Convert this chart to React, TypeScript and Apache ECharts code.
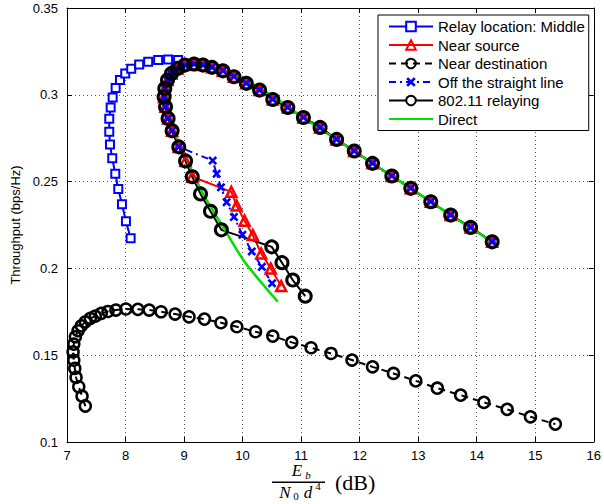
import React, { useEffect, useRef } from "react";
import * as echarts from "echarts";

// Relay location: Middle (blue squares)
const relayMiddle: number[][] = [
  [8.087, 0.2173], [8.007, 0.2272], [7.939, 0.237], [7.876, 0.2457], [7.825, 0.2545],
  [7.773, 0.2634], [7.734, 0.2714], [7.722, 0.2787], [7.722, 0.2862], [7.746, 0.2927],
  [7.78, 0.2985], [7.831, 0.3039], [7.905, 0.3085], [7.995, 0.3123], [8.097, 0.315],
  [8.233, 0.3175], [8.387, 0.319], [8.557, 0.32], [8.727, 0.3204], [8.898, 0.32],
];

// Upper curve shared by near source, off the straight line and 802.11 relaying
const upperShared: number[][] = [
  [14.264, 0.2153], [13.896, 0.2236], [13.555, 0.2307], [13.215, 0.2384], [12.874, 0.2461],
  [12.55, 0.2532], [12.22, 0.2605], [11.908, 0.2676], [11.606, 0.2743], [11.324, 0.2812],
  [11.039, 0.2869], [10.772, 0.2927], [10.516, 0.2973], [10.29, 0.3027], [10.063, 0.3066],
  [9.852, 0.3104], [9.664, 0.3138], [9.477, 0.3158], [9.324, 0.3171], [9.17, 0.3177],
  [9.012, 0.3171], [8.888, 0.3152], [8.785, 0.3123], [8.717, 0.3085], [8.671, 0.3037],
  [8.659, 0.2988], [8.683, 0.2931], [8.727, 0.2864], [8.796, 0.2793], [8.91, 0.27],
];

const nearSourceBranch: number[][] = [
  [9.026, 0.2619], [9.14, 0.2528], [9.807, 0.2441], [9.898, 0.2362], [10.034, 0.2275],
  [10.175, 0.2192], [10.318, 0.2086], [10.482, 0.1999], [10.659, 0.1898],
];

const offLineBranch: number[][] = [
  [9.489, 0.2621], [9.557, 0.2545], [9.63, 0.2467], [9.727, 0.2381], [9.852, 0.2296],
  [9.997, 0.2194], [10.157, 0.2098], [10.329, 0.2009], [10.503, 0.1914],
];

const relayingBranch: number[][] = [
  [9.026, 0.2619], [9.14, 0.2528], [9.281, 0.2429], [9.451, 0.2329], [9.637, 0.2222],
  [10.498, 0.2124], [10.673, 0.2033], [10.857, 0.1933], [11.07, 0.184],
];

// Near destination (bottom curve)
const nearDestination: number[][] = [
  [7.313, 0.1207], [7.257, 0.1264], [7.201, 0.1318], [7.155, 0.1372], [7.133, 0.1424],
  [7.116, 0.1471], [7.104, 0.1519], [7.116, 0.1564], [7.143, 0.1606], [7.189, 0.1641],
  [7.245, 0.1669], [7.313, 0.1692], [7.399, 0.1712], [7.484, 0.1725], [7.586, 0.1741],
  [7.7, 0.1752], [7.836, 0.176], [8.007, 0.1766], [8.211, 0.1764], [8.404, 0.176],
  [8.608, 0.175], [8.847, 0.1737], [9.085, 0.1721], [9.348, 0.1708], [9.63, 0.1687],
  [9.901, 0.1664], [10.221, 0.1635], [10.516, 0.161], [10.84, 0.1574], [11.17, 0.1543],
  [11.511, 0.151], [11.869, 0.1472], [12.22, 0.1433], [12.578, 0.1395], [12.959, 0.1352],
  [13.327, 0.131], [13.726, 0.127], [14.123, 0.1228], [14.52, 0.1188], [14.918, 0.1145],
  [15.344, 0.1103],
];

// Direct (green line)
const direct: number[][] = [
  [10.601, 0.1808], [10.034, 0.2038], [9.664, 0.224], [9.353, 0.2412], [9.126, 0.2566],
  [8.956, 0.27], [8.858, 0.2762], [8.756, 0.2854], [8.717, 0.2969], [8.727, 0.3066],
  [8.813, 0.3133], [8.927, 0.3161], [9.068, 0.3171], [9.239, 0.3171], [9.467, 0.3158],
  [9.693, 0.3138], [9.92, 0.3104], [10.204, 0.3056], [10.489, 0.2998], [10.772, 0.2931],
  [11.056, 0.2864], [11.6, 0.2743], [12.215, 0.2606], [12.874, 0.2461], [13.555, 0.2307],
  [14.264, 0.2153],
];

const legendNames = [
  "Relay location: Middle",
  "Near source",
  "Near destination",
  "Off the straight line",
  "802.11 relaying",
  "Direct",
];

const xMin = 7, xMax = 16, xStep = 1;
const yMin = 0.1, yMax = 0.35, yStep = 0.05;

const crossPath =
  "path://M0,2L2,0L5,3L8,0L10,2L7,5L10,8L8,10L5,7L2,10L0,8L3,5Z";

export default function App() {
  const ref = useRef<HTMLDivElement>(null);
  useEffect(() => {
    if (!ref.current) return;
    const chart = echarts.init(ref.current, null, { renderer: "svg" });
    const sans = "Liberation Sans, Arial, Helvetica, sans-serif";
    const serif = "Liberation Serif, Times New Roman, serif";
    const axisCommon = {
      type: "value" as const,
      axisLine: { show: true, onZero: false, lineStyle: { color: "#000", width: 1 } },
      axisTick: { show: true, inside: true, length: 5, lineStyle: { color: "#000" } },
    };
    const nearSource = [...upperShared, ...nearSourceBranch];
    const offLine = [...upperShared, ...offLineBranch];
    const relaying = [...upperShared, ...relayingBranch];
    chart.setOption({
      animation: false,
      backgroundColor: "#fff",
      grid: { left: 67, right: 8, top: 8, bottom: 62, containLabel: false },
      xAxis: [
        {
          ...axisCommon,
          min: xMin, max: xMax, interval: xStep, position: "bottom",
          axisLabel: { color: "#000", fontSize: 13, fontFamily: sans, margin: 7 },
          splitLine: { show: true, lineStyle: { color: "#555", type: [1, 3], width: 1 } },
        },
        {
          ...axisCommon,
          min: xMin, max: xMax, interval: xStep, position: "top",
          axisLabel: { show: false },
          splitLine: { show: false },
        },
      ],
      yAxis: [
        {
          ...axisCommon,
          min: yMin, max: yMax, interval: yStep, position: "left",
          axisLabel: { color: "#000", fontSize: 13, fontFamily: sans, margin: 9 },
          splitLine: { show: true, lineStyle: { color: "#555", type: [1, 3], width: 1 } },
          name: "Throughput (bps/Hz)",
          nameLocation: "middle",
          nameGap: 44,
          nameTextStyle: { color: "#000", fontSize: 13, fontFamily: sans },
        },
        {
          ...axisCommon,
          min: yMin, max: yMax, interval: yStep, position: "right",
          axisLabel: { show: false },
          splitLine: { show: false },
        },
      ],
      legend: {
        orient: "vertical",
        left: 378,
        top: 15,
        data: [
          legendNames[0],
          legendNames[1],
          legendNames[2],
          legendNames[3],
          { name: legendNames[4], itemStyle: { color: "#fff" } },
          { name: legendNames[5], itemStyle: { opacity: 0 } },
        ],
        itemWidth: 44,
        itemHeight: 12,
        itemGap: 3.5,
        padding: [4, 4, 4, 10],
        borderColor: "#000",
        borderWidth: 1,
        backgroundColor: "#fff",
        textStyle: { color: "#000", fontSize: 15, fontFamily: sans },
        selectedMode: false,
      },
      graphic: [
        { type: "text", x: 297, y: 470, style: { text: "E", font: `italic 17px ${serif}`, fill: "#000", textAlign: "center", textVerticalAlign: "middle" } },
        { type: "text", x: 308, y: 475, style: { text: "b", font: `italic 11px ${serif}`, fill: "#000", textAlign: "center", textVerticalAlign: "middle" } },
        { type: "rect", shape: { x: 272, y: 481.5, width: 53, height: 1.4 }, style: { fill: "#000" } },
        { type: "text", x: 285, y: 492, style: { text: "N", font: `italic 17px ${serif}`, fill: "#000", textAlign: "center", textVerticalAlign: "middle" } },
        { type: "text", x: 296, y: 496, style: { text: "0", font: `11px ${serif}`, fill: "#000", textAlign: "center", textVerticalAlign: "middle" } },
        { type: "text", x: 308, y: 492, style: { text: "d", font: `italic 17px ${serif}`, fill: "#000", textAlign: "center", textVerticalAlign: "middle" } },
        { type: "text", x: 318, y: 486, style: { text: "4", font: `11px ${serif}`, fill: "#000", textAlign: "center", textVerticalAlign: "middle" } },
        { type: "text", x: 335, y: 482, style: { text: "(dB)", font: `22px ${serif}`, fill: "#000", textAlign: "left", textVerticalAlign: "middle" } },
      ],
      series: [
        {
          name: legendNames[0], type: "line", data: relayMiddle,
          symbol: "rect", symbolSize: 8,
          lineStyle: { color: "#0000ff", width: 2 },
          itemStyle: { color: "#fff", borderColor: "#0000ff", borderWidth: 2 },
        },
        {
          name: legendNames[1], type: "line", data: nearSource,
          symbol: "triangle", symbolSize: 10,
          lineStyle: { color: "#ff0000", width: 2 },
          itemStyle: { color: "rgba(255,255,255,0)", borderColor: "#ff0000", borderWidth: 2.5 },
        },
        {
          name: legendNames[2], type: "line", data: nearDestination,
          symbol: "circle", symbolSize: 11,
          lineStyle: { color: "#000", width: 2, type: [7, 5] },
          itemStyle: { color: "rgba(255,255,255,0)", borderColor: "#000", borderWidth: 2.5 },
        },
        {
          name: legendNames[3], type: "line", data: offLine,
          symbol: crossPath, symbolSize: 9,
          lineStyle: { color: "#0000ff", width: 2, type: [7, 4, 2, 4] },
          itemStyle: { color: "#0000ff", borderWidth: 0 },
        },
        {
          name: legendNames[4], type: "line", data: relaying,
          symbol: "circle", symbolSize: 12,
          lineStyle: { color: "#000", width: 2 },
          itemStyle: { color: "rgba(255,255,255,0)", borderColor: "#000", borderWidth: 3 },
        },
        {
          name: legendNames[5], type: "line", data: direct,
          symbol: "none", smooth: 0.25,
          lineStyle: { color: "#00e000", width: 2.5 },
          itemStyle: { color: "#00e000" },
        },
      ],
    });
    return () => chart.dispose();
  }, []);
  return <div ref={ref} style={{ width: 604, height: 504, position: "absolute", left: 0, top: 0 }} />;
}
